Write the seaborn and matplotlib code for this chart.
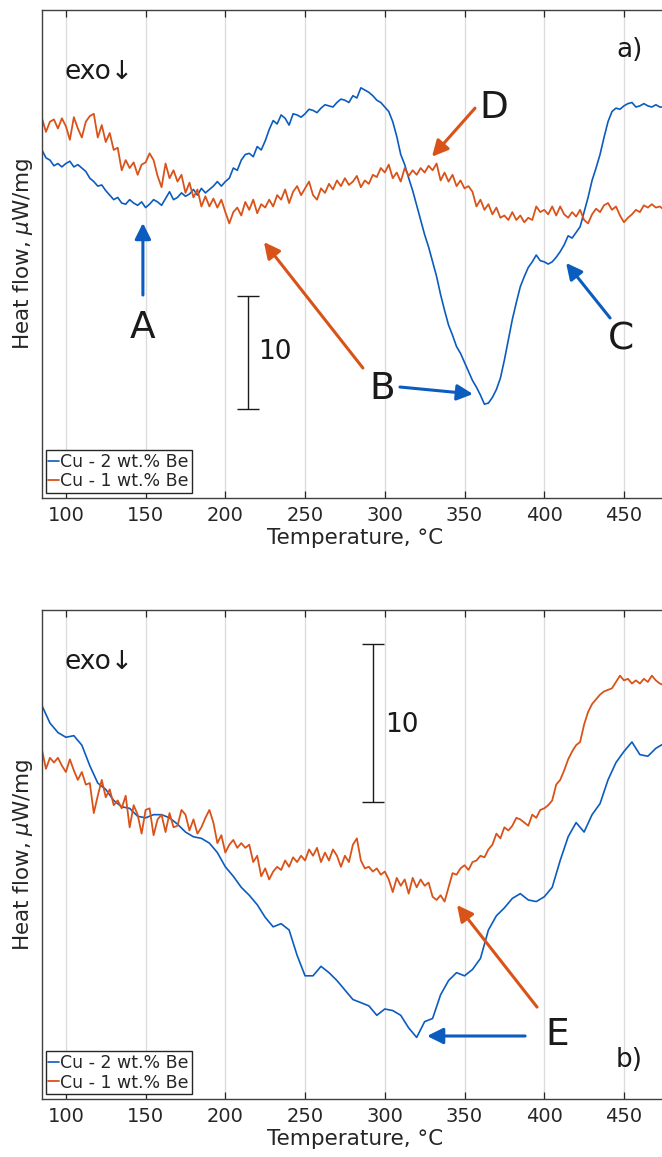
import numpy as np
import pandas as pd
import matplotlib
matplotlib.use("Agg")
import matplotlib.pyplot as plt
import seaborn as sns

# heat flow readings (scale bar = 10 units), sampled every 2.5 C (panel b blue every 5 C)
T0 = 85
hf_a_be2 = [30.8, 30.1, 29.9, 29.4, 29.6, 29.3, 29.6, 29.8, 29.3, 29.5,
            29.2, 28.9, 28.3, 28.0, 27.6, 27.7, 27.2, 26.8, 26.4, 26.6,
            26.1, 26.0, 26.4, 26.1, 25.9, 26.2, 25.7, 26.0, 26.4, 26.2,
            25.9, 26.5, 27.1, 26.4, 26.6, 27.0, 26.7, 26.9, 27.3, 26.8,
            27.4, 27.0, 27.3, 27.6, 28.0, 27.6, 28.0, 28.3, 29.2, 29.0,
            29.9, 30.4, 30.5, 30.2, 31.1, 30.8, 31.6, 32.6, 33.4, 33.1,
            33.9, 33.6, 33.0, 34.0, 33.9, 33.7, 34.0, 34.4, 34.3, 34.1,
            34.5, 34.8, 34.7, 34.6, 35.0, 35.3, 35.2, 35.0, 35.6, 35.4,
            36.3, 36.1, 35.9, 35.6, 35.2, 35.0, 34.6, 34.2, 33.3, 32.0,
            30.4, 29.5, 28.3, 27.2, 25.9, 24.6, 23.3, 22.2, 20.9, 19.6,
            18.0, 16.6, 15.3, 14.4, 13.4, 12.8, 12.0, 11.2, 10.4, 9.8,
            9.1, 8.3, 8.4, 8.9, 9.6, 10.6, 12.2, 14.0, 15.8, 17.3,
            18.7, 19.6, 20.4, 20.9, 21.5, 21.0, 20.9, 20.7, 20.9, 21.3,
            21.8, 22.4, 23.2, 23.0, 23.5, 24.0, 25.3, 26.6, 28.1, 29.2,
            30.4, 31.9, 33.3, 34.2, 34.5, 34.4, 34.7, 34.9, 35.0, 34.6,
            34.7, 34.9, 34.7, 34.6, 34.8, 34.6, 34.6, 34.7]
hf_a_be1 = [33.6, 32.4, 33.3, 33.5, 32.7, 33.6, 32.9, 31.7, 33.7, 32.7,
            31.9, 33.3, 33.8, 34.0, 31.9, 33.0, 31.5, 32.3, 30.8, 31.0,
            29.0, 29.9, 29.2, 29.7, 28.6, 29.5, 29.7, 30.5, 29.9, 28.5,
            27.5, 29.6, 28.3, 29.0, 28.0, 28.6, 27.0, 27.9, 26.6, 27.3,
            25.8, 26.7, 25.8, 26.5, 25.7, 26.4, 25.3, 24.3, 25.3, 25.7,
            25.0, 26.2, 25.5, 26.4, 25.2, 26.0, 25.7, 26.4, 25.8, 26.8,
            26.4, 27.3, 26.1, 27.1, 27.6, 26.8, 27.4, 28.0, 26.8, 26.4,
            27.4, 27.0, 27.8, 27.3, 28.1, 27.6, 28.3, 27.7, 28.0, 28.5,
            27.5, 28.1, 27.8, 28.6, 28.4, 29.2, 28.8, 29.5, 28.3, 28.8,
            28.0, 29.2, 28.5, 29.0, 28.6, 29.2, 28.8, 29.4, 29.0, 29.6,
            28.1, 28.8, 28.0, 28.6, 27.6, 28.1, 27.4, 27.6, 27.1, 25.8,
            26.4, 25.5, 26.0, 25.1, 25.7, 24.8, 25.0, 24.6, 25.3, 24.6,
            25.0, 24.4, 24.8, 24.6, 25.8, 25.3, 25.5, 25.1, 25.8, 25.0,
            25.8, 25.1, 24.8, 25.3, 24.9, 25.5, 24.6, 24.3, 25.1, 25.6,
            25.3, 25.9, 26.1, 25.5, 25.8, 25.0, 24.4, 24.8, 25.1, 25.5,
            25.3, 25.9, 25.7, 26.0, 25.7, 25.8, 25.5, 25.8]
hf_b_be2 = [24.9, 23.8, 23.2, 22.9, 23.0, 22.4, 21.1, 20.0, 19.6, 18.9,
            18.5, 18.4, 17.9, 17.8, 18.0, 18.0, 17.8, 17.4, 16.9, 16.6,
            16.5, 16.2, 15.6, 14.7, 14.1, 13.4, 12.9, 12.3, 11.5, 10.9,
            11.1, 10.7, 9.1, 7.8, 7.8, 8.4, 8.0, 7.5, 6.9, 6.3,
            6.1, 5.9, 5.3, 5.7, 5.6, 5.3, 4.5, 3.9, 4.9, 5.1,
            6.6, 7.5, 8.0, 7.8, 8.2, 8.9, 10.7, 11.6, 12.1, 12.7,
            13.0, 12.6, 12.5, 12.8, 13.4, 15.1, 16.6, 17.5, 16.9, 18.0,
            18.7, 20.2, 21.3, 22.0, 22.6, 21.8, 21.7, 22.2, 22.5]
hf_b_be1 = [22.1, 20.9, 21.6, 21.3, 21.6, 21.1, 20.7, 21.5, 20.8, 20.2,
            20.7, 19.9, 20.0, 18.1, 19.2, 20.2, 19.1, 19.6, 18.6, 18.9,
            18.4, 19.2, 17.2, 18.6, 18.0, 16.8, 18.3, 18.4, 16.7, 17.7,
            18.0, 16.9, 18.1, 17.2, 17.3, 18.3, 18.0, 17.0, 17.7, 16.8,
            17.2, 17.8, 18.3, 17.5, 16.2, 16.7, 15.6, 16.1, 16.4, 15.9,
            16.2, 15.9, 16.1, 15.0, 15.4, 14.1, 14.6, 13.9, 14.4, 14.7,
            14.5, 15.1, 14.7, 15.3, 15.0, 15.4, 15.1, 15.8, 15.4, 15.9,
            15.0, 15.6, 15.1, 15.8, 15.4, 14.7, 15.4, 15.0, 16.1, 16.5,
            15.1, 14.6, 14.7, 14.4, 14.6, 14.2, 14.4, 13.9, 13.1, 14.0,
            13.5, 13.9, 13.0, 14.0, 13.4, 13.9, 13.5, 13.7, 12.8, 12.6,
            12.9, 12.5, 13.4, 14.3, 14.2, 14.6, 14.8, 14.5, 15.0, 15.1,
            15.4, 15.3, 15.8, 16.1, 16.8, 16.5, 17.2, 17.0, 17.3, 17.8,
            17.7, 17.5, 17.3, 18.0, 17.8, 18.3, 18.4, 18.6, 18.9, 19.9,
            20.2, 20.8, 21.5, 22.0, 22.4, 22.6, 23.7, 24.5, 25.0, 25.3,
            25.6, 25.8, 25.9, 26.0, 26.4, 26.8, 26.5, 26.6, 26.3, 26.5,
            26.3, 26.6, 26.4, 26.8, 26.5, 26.3, 26.2, 26.4]

labels = ["Cu - 2 wt.% Be", "Cu - 1 wt.% Be"]
xticks = [100, 150, 200, 250, 300, 350, 400, 450]

BLUE = "#0b5cbf"
ORANGE = "#d95319"
DARK = "#262626"

sns.set_theme(style="white")
plt.rcParams["font.family"] = ["DejaVu Sans"]
plt.rcParams["mathtext.fontset"] = "dejavusans"


def temps(vals, step):
    return T0 + step * np.arange(len(vals))


def style(ax, ymax):
    ax.set_xlim(85, 477.6)
    ax.set_ylim(0, ymax)
    ax.set_xticks(xticks)
    ax.set_yticks([])
    ax.grid(axis="x", color="#dcdcdc", lw=1)
    ax.grid(axis="y", visible=False)
    ax.tick_params(axis="x", direction="in", top=True, bottom=True, length=5,
                   width=0.9, color=DARK, labelsize=14, labelcolor=DARK, pad=6)
    for s in ["left", "top", "bottom"]:
        ax.spines[s].set_color("#404040")
        ax.spines[s].set_linewidth(1.0)
    ax.spines["right"].set_visible(False)
    ax.set_xlabel("Temperature, °C", fontsize=15.5, color=DARK, labelpad=2)
    ax.set_ylabel("Heat flow, $\\mu$W/mg", fontsize=15.5, color=DARK, labelpad=5)


def arrow(ax, start, tip, color):
    ax.annotate("", xy=tip, xytext=start,
                arrowprops=dict(arrowstyle="-|>,head_length=0.8,head_width=0.4",
                                color=color, lw=2.2, shrinkA=0, shrinkB=0,
                                mutation_scale=12))


def legend(ax):
    leg = ax.legend(loc="lower left", bbox_to_anchor=(0.006, 0.01), borderaxespad=0,
                    fontsize=12.5, handlelength=0.6, handletextpad=0.1,
                    borderpad=0.15, labelspacing=0.1, fancybox=False,
                    framealpha=1, edgecolor=DARK)
    leg.get_frame().set_linewidth(1.0)


fig = plt.figure(figsize=(6.62, 11.57), dpi=100)
ax1 = fig.add_axes([0.0634, 0.5696, 0.9456, 0.4218])
ax2 = fig.add_axes([0.0634, 0.0501, 0.9456, 0.4226])

# panel a
sns.lineplot(x=temps(hf_a_be2, 2.5), y=hf_a_be2, ax=ax1, color=BLUE, lw=1.2, label=labels[0])
sns.lineplot(x=temps(hf_a_be1, 2.5), y=hf_a_be1, ax=ax1, color=ORANGE, lw=1.3, label=labels[1])
style(ax1, 43.19)
legend(ax1)
ax1.errorbar(214.4, 12.88, yerr=5, color="k", lw=1, capsize=8, capthick=1)
ax1.text(220.4, 12.9, "10", fontsize=19, va="center", ha="left", color="k")
ax1.text(99.4, 37.7, "exo↓", fontsize=19, va="center", ha="left", color="k")
ax1.text(445, 39.65, "a)", fontsize=19, va="center", ha="left", color="k")
for txt, xy in [("A", (148.3, 15.0)), ("B", (298.2, 9.65)), ("C", (448.2, 14.0)), ("D", (368.5, 34.5))]:
    ax1.text(xy[0], xy[1], txt, fontsize=27, va="center", ha="center", color="k")
arrow(ax1, (148.3, 17.96), (148.3, 24.34), BLUE)
arrow(ax1, (309.5, 9.82), (355.3, 9.2), BLUE)
arrow(ax1, (286.3, 11.5), (224.2, 22.65), ORANGE)
arrow(ax1, (441.3, 15.93), (413.7, 20.8), BLUE)
arrow(ax1, (356.6, 34.5), (329.6, 30.2), ORANGE)

# panel b
sns.lineplot(x=temps(hf_b_be2, 5), y=hf_b_be2, ax=ax2, color=BLUE, lw=1.2, label=labels[0])
sns.lineplot(x=temps(hf_b_be1, 2.5), y=hf_b_be1, ax=ax2, color=ORANGE, lw=1.3, label=labels[1])
style(ax2, 30.95)
legend(ax2)
ax2.errorbar(292.6, 23.8, yerr=5, color="k", lw=1, capsize=8, capthick=1)
ax2.text(300.1, 23.67, "10", fontsize=19, va="center", ha="left", color="k")
ax2.text(99.4, 27.66, "exo↓", fontsize=19, va="center", ha="left", color="k")
ax2.text(445, 2.47, "b)", fontsize=19, va="center", ha="left", color="k")
ax2.text(408.0, 4.05, "E", fontsize=27, va="center", ha="center", color="k")
arrow(ax2, (395.5, 5.82), (345.3, 12.28), ORANGE)
arrow(ax2, (388.0, 3.99), (326.5, 3.99), BLUE)

fig.savefig("out.png", dpi=100)
